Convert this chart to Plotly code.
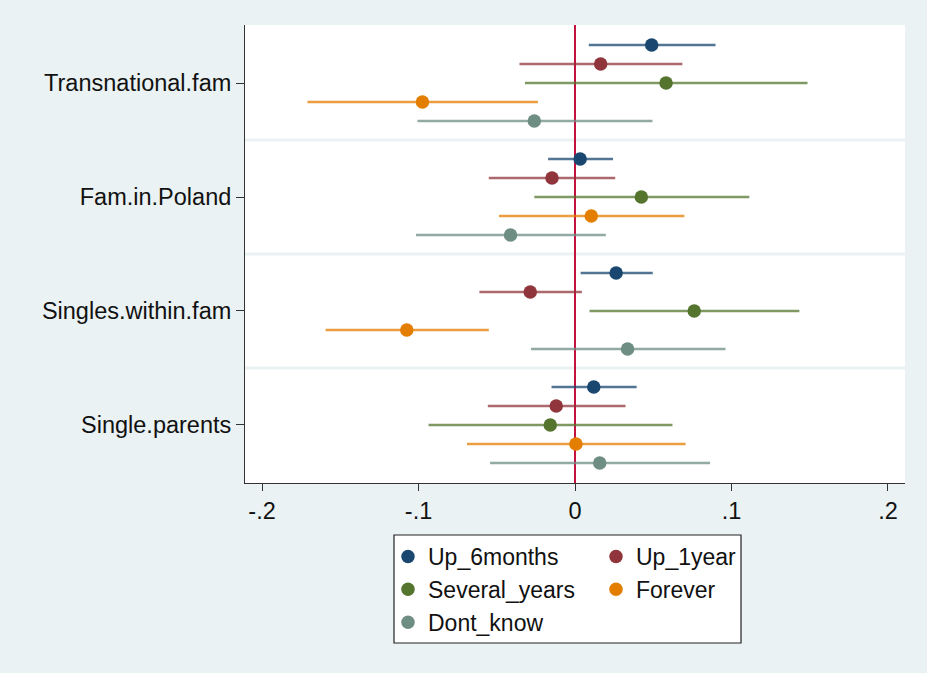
import plotly.graph_objects as go

groups = ["Transnational.fam", "Fam.in.Poland", "Singles.within.fam", "Single.parents"]
series = ["Up_6months", "Up_1year", "Several_years", "Forever", "Dont_know"]

up6_coef = [0.049, 0.0033, 0.0263, 0.012]
up6_lo = [0.0088, -0.0172, 0.0036, -0.015]
up6_hi = [0.0898, 0.0243, 0.0497, 0.0394]

up1_coef = [0.0164, -0.0147, -0.0286, -0.012]
up1_lo = [-0.0355, -0.0551, -0.0611, -0.0557]
up1_hi = [0.0686, 0.0257, 0.0044, 0.0323]

sev_coef = [0.0582, 0.0424, 0.0762, -0.0158]
sev_lo = [-0.032, -0.026, 0.0093, -0.0936]
sev_hi = [0.1486, 0.1114, 0.1434, 0.0623]

for_coef = [-0.0975, 0.0104, -0.1075, 0.0006]
for_lo = [-0.171, -0.0486, -0.1594, -0.069]
for_hi = [-0.0237, 0.0699, -0.0551, 0.0707]

dk_coef = [-0.026, -0.0412, 0.0336, 0.0158]
dk_lo = [-0.1007, -0.1016, -0.0281, -0.0543]
dk_hi = [0.0495, 0.0197, 0.0962, 0.0863]

xtick_vals = [-0.2, -0.1, 0, 0.1, 0.2]
xtick_text = ["-.2", "-.1", "0", ".1", ".2"]

data = [
    (up6_coef, up6_lo, up6_hi),
    (up1_coef, up1_lo, up1_hi),
    (sev_coef, sev_lo, sev_hi),
    (for_coef, for_lo, for_hi),
    (dk_coef, dk_lo, dk_hi),
]
colors = ["#1a476f", "#90353b", "#55752f", "#e37e00", "#6e8e84"]
line_colors = ["rgba(26,71,111,0.75)", "rgba(144,53,59,0.75)", "rgba(85,117,47,0.75)",
               "rgba(227,126,0,0.75)", "rgba(110,142,132,0.75)"]
legend_ids = ["legend", "legend2", "legend", "legend2", "legend"]

BG = "#eaf2f3"
FONT = "Liberation Sans, Arial, sans-serif"
FS = 23.5
LFS = 23

fig = go.Figure()
for i, (name, (c, lo, hi)) in enumerate(zip(series, data)):
    ypos = [g + 1 + (i - 2) / 6 for g in range(len(groups))]
    fig.add_trace(go.Scatter(
        x=c, y=ypos, mode="markers", name=name,
        marker=dict(color=colors[i], size=13.5, line=dict(width=0)),
        error_x=dict(type="data", symmetric=False,
                     array=[h - v for h, v in zip(hi, c)],
                     arrayminus=[v - l for v, l in zip(c, lo)],
                     color=line_colors[i], thickness=2.3, width=0),
        legend=legend_ids[i],
    ))

# plot area pixel geometry
L, R, T, B = 245, 905, 25, 483
W, H = 927, 673
def px(x):
    return (x - L) / (R - L)
def py(y):
    return (B - y) / (B - T)

shapes = []
for yv in [1.5, 2.5, 3.5]:
    shapes.append(dict(type="line", xref="paper", x0=0, x1=1, yref="y", y0=yv, y1=yv,
                       line=dict(color=BG, width=3), layer="below"))
shapes.append(dict(type="line", xref="x", x0=0, x1=0, yref="paper", y0=0, y1=1,
                   line=dict(color="#c4123f", width=2), layer="below"))
shapes.append(dict(type="rect", xref="paper", yref="paper",
                   x0=px(394), x1=px(741), y0=py(535), y1=py(643),
                   fillcolor="white", line=dict(color="#222", width=1.2), layer="below"))

fig.update_layout(
    width=W, height=H,
    margin=dict(l=L, r=W - R, t=T, b=H - B),
    paper_bgcolor=BG, plot_bgcolor="white",
    font=dict(family=FONT, size=FS, color="#111"),
    shapes=shapes,
    xaxis=dict(range=[-0.2109, 0.2109], tickvals=xtick_vals, ticktext=xtick_text,
               showgrid=False, zeroline=False, showline=True, linecolor="#333", linewidth=1,
               ticks="outside", ticklen=7, tickcolor="#333", tickfont=dict(size=FS)),
    yaxis=dict(range=[4.509, 0.491], tickvals=[1, 2, 3, 4], ticktext=groups,
               showgrid=False, zeroline=False, showline=True, linecolor="#333", linewidth=1,
               ticks="outside", ticklen=8, tickcolor="#333", tickfont=dict(size=FS)),
    legend=dict(x=px(388), y=py(535), xanchor="left", yanchor="top",
                bgcolor="rgba(0,0,0,0)", borderwidth=0, font=dict(size=LFS)),
    legend2=dict(x=px(596), y=py(535), xanchor="left", yanchor="top",
                 bgcolor="rgba(0,0,0,0)", borderwidth=0, font=dict(size=LFS)),
)

fig.write_html(
    "out.html",
    config={"displayModeBar": False},
    post_script="document.body.style.margin='0';document.body.style.overflow='hidden';"
                "document.body.style.background='#eaf2f3';",
)
